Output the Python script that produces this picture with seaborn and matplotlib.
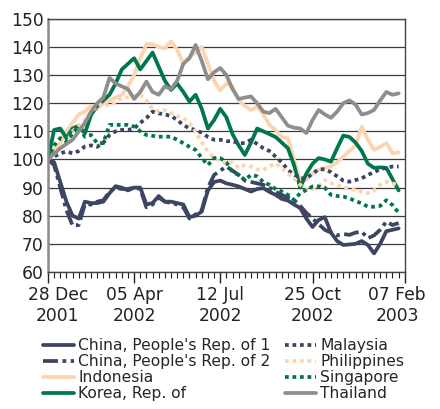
import numpy as np
import pandas as pd
import matplotlib
matplotlib.use("Agg")
import matplotlib.pyplot as plt
import matplotlib.dates as mdates
from matplotlib.transforms import ScaledTranslation
import seaborn as sns

# weekly index values, 28 Dec 2001 = 100
china1 = [100, 99, 92, 85, 80, 79, 85, 84.5, 84.5, 85, 88, 90.5, 90, 89, 90, 90, 84, 84.5, 87, 85,
          85, 84.5, 84, 79.5, 80, 81.5, 89, 92, 92.5, 91.5, 91, 90.4, 89.5, 88.6, 89.5, 89.8, 88.5, 87.4, 86, 85.4,
          84, 82.7, 79, 76, 78.5, 79.5, 74, 71, 69.6, 69.8, 70, 71, 69.6, 66.6, 70, 74.5, 75, 75.5]
china2 = [100, 98, 90, 82, 76.5, 76.7, 84, 84, 85, 85.5, 88.5, 90, 89.5, 89.5, 90, 89.5, 83, 84, 86.5, 85,
          84.5, 84, 83, 79, 80.5, 82, 90, 94.5, 96, 97.5, 96, 94.5, 92.5, 92, 91.5, 91, 90, 88.5, 87.4, 86.5,
          85.6, 83.5, 81, 79, 77, 75, 74, 73, 73.5, 73.2, 74, 74.3, 72, 73, 75, 77.9, 76.7, 77.4]
indonesia = [100, 103, 106, 110, 113, 116, 117, 119, 118, 120, 121, 122, 123, 126, 130, 136, 141, 141, 140, 139.5,
             142, 139, 134, 136.5, 138, 140, 134, 128, 124.5, 127, 126, 121, 119, 117.6, 118.8, 116, 112.3, 110.5, 108, 107.5,
             100, 92, 92.7, 95, 96.3, 97, 97.5, 99, 101, 103, 105, 111.7, 107, 103.4, 104.5, 105.8, 102.2, 102.5]
korea = [100, 110.5, 111, 107.6, 111, 112, 109.3, 115.8, 119, 121, 123, 127, 132, 134, 136, 132, 135, 138, 133, 128,
         124.7, 127, 124, 120.6, 123, 118, 111, 114, 118, 115, 109, 105, 101.6, 106, 111, 110, 109, 108, 106, 104,
         98, 90, 95, 98.5, 100.5, 100, 99.2, 104, 108.5, 108, 106, 103, 98.5, 97, 97.2, 97, 93, 89]
malaysia = [100, 101, 102.2, 102.8, 102.2, 103, 104.6, 105, 104.5, 106, 108.7, 110, 110.5, 110.5, 111, 113, 114.7, 117, 116.4, 116,
            115.5, 114, 112.3, 111, 110.5, 109.5, 108, 107, 107, 106.5, 106.5, 105.8, 105.8, 107, 105.5, 104, 103, 101, 99, 96.3,
            94.5, 93.3, 93.3, 95, 96.5, 96.5, 95.5, 94, 92.5, 92.1, 92.7, 93.3, 94.5, 95.5, 96.5, 97, 97.5, 97.5]
philippines = [100, 102, 104, 106, 110, 112, 114, 117, 119, 120, 119, 120.5, 121.8, 122, 122.5, 123, 121, 118, 117, 117.5,
               116.5, 115.5, 114.8, 113, 110, 106, 102.8, 100.5, 99.5, 98.5, 99, 97, 98, 97.5, 96.5, 96.3, 97.5, 98.7, 96.9, 95,
               93.3, 91, 89.2, 89.5, 90.5, 92.7, 91.5, 91, 90, 89.8, 89, 88.6, 88, 89, 91, 92.1, 91.5, 91]
singapore = [100, 105, 107.6, 106.4, 109.3, 111.7, 108.1, 108.7, 105.8, 105.8, 112.3, 112.3, 112.3, 112.3, 111.7, 110, 108.7, 108.4, 108.1, 108.1,
             108.1, 107, 105.8, 104.5, 103.4, 100.5, 98, 100.5, 100.5, 99, 95.5, 94.5, 92.7, 94.5, 94, 92, 91, 89.5, 88.6, 87.4,
             85.6, 88, 89.2, 90.4, 90.4, 90, 87.4, 87, 86.8, 86.2, 85.2, 84.4, 83.2, 83.2, 83.5, 85.5, 83.8, 81]
thailand = [100, 102, 104, 105.5, 107, 110, 113, 117, 120, 122, 129, 127, 126, 125, 121.5, 124, 127.7, 124, 123, 126,
            125, 128, 134, 136, 140.7, 135, 128.5, 131, 132.5, 130, 125, 121.5, 122, 122.4, 120, 117, 116.5, 118, 115, 112,
            111.3, 111, 109.4, 114, 117.6, 116, 114.8, 117, 120, 121, 119.5, 116, 116.5, 117.6, 121, 124, 123, 123.5]

names = ["China, People's Rep. of 1", "China, People's Rep. of 2", "Indonesia", "Korea, Rep. of",
         "Malaysia", "Philippines", "Singapore", "Thailand"]
series = [china1, china2, indonesia, korea, malaysia, philippines, singapore, thailand]
tick_dates = ["2001-12-28", "2002-04-05", "2002-07-12", "2002-10-25", "2003-02-07"]

navy, peach, green, grey = "#3c4561", "#fcd4ae", "#00774b", "#8e8e8e"
palette = dict(zip(names, [navy, navy, peach, green, navy, peach, green, grey]))
dot = (1, 1)
dashes = dict(zip(names, ["", (4, 1.2, 1, 1.2), "", "", dot, dot, dot, ""]))

dates = pd.date_range("2001-12-28", periods=len(china1), freq="7D")
df = pd.concat([pd.DataFrame({"date": dates, "value": v, "country": n})
                for n, v in zip(names, series)], ignore_index=True)

sns.set_style("white")
plt.rcParams["font.family"] = ["DejaVu Sans"]

fig = plt.figure(figsize=(4.4, 4.09), dpi=100)
ax = fig.add_axes([0.109, 0.335, 0.811, 0.619])

sns.lineplot(data=df, x="date", y="value", hue="country", style="country",
             palette=palette, dashes=dashes, linewidth=2.7, ax=ax)

ax.set_ylim(60, 150)
ax.set_yticks(np.arange(60, 151, 10))
ax.set_xlim(pd.Timestamp(tick_dates[0]), pd.Timestamp(tick_dates[-1]))
ax.set_xticks([pd.Timestamp(d) for d in tick_dates])
ax.xaxis.set_major_formatter(mdates.DateFormatter("%d %b\n%Y"))
ax.xaxis.set_minor_locator(mdates.WeekdayLocator(byweekday=mdates.FR))
ax.set_xlabel("")
ax.set_ylabel("")

ax.yaxis.grid(True, color="#3a3a3a", linewidth=0.9)
ax.set_axisbelow(True)
ax.tick_params(axis="y", length=0, pad=3, labelsize=12.3, colors="#222222")
ax.tick_params(axis="x", which="major", length=8, width=1, pad=2, labelsize=12.3,
               colors="#222222", bottom=True)
ax.tick_params(axis="x", which="minor", length=4, width=0.8, bottom=True, color="#222222")
for s in ["top", "right", "bottom"]:
    ax.spines[s].set_color("#444444")
    ax.spines[s].set_linewidth(1.0)
ax.spines["left"].set_color("#8a8a8a")
ax.spines["left"].set_linewidth(1.8)

# first and last date labels sit inward of their ticks
mt = ax.xaxis.get_major_ticks()
mt[0].label1.set_transform(mt[0].label1.get_transform() + ScaledTranslation(0.10, 0, fig.dpi_scale_trans))
mt[-1].label1.set_transform(mt[-1].label1.get_transform() + ScaledTranslation(-0.075, 0, fig.dpi_scale_trans))

handles, labels = ax.get_legend_handles_labels()
ax.legend(handles, labels, loc="upper left", bbox_to_anchor=(0.097, 0.173),
          bbox_transform=fig.transFigure, ncol=2, frameon=False, fontsize=11.2,
          handlelength=2.0, handletextpad=0.3, columnspacing=0.9, labelspacing=0.06,
          borderaxespad=0, borderpad=0)

fig.savefig("out.png", dpi=100)
